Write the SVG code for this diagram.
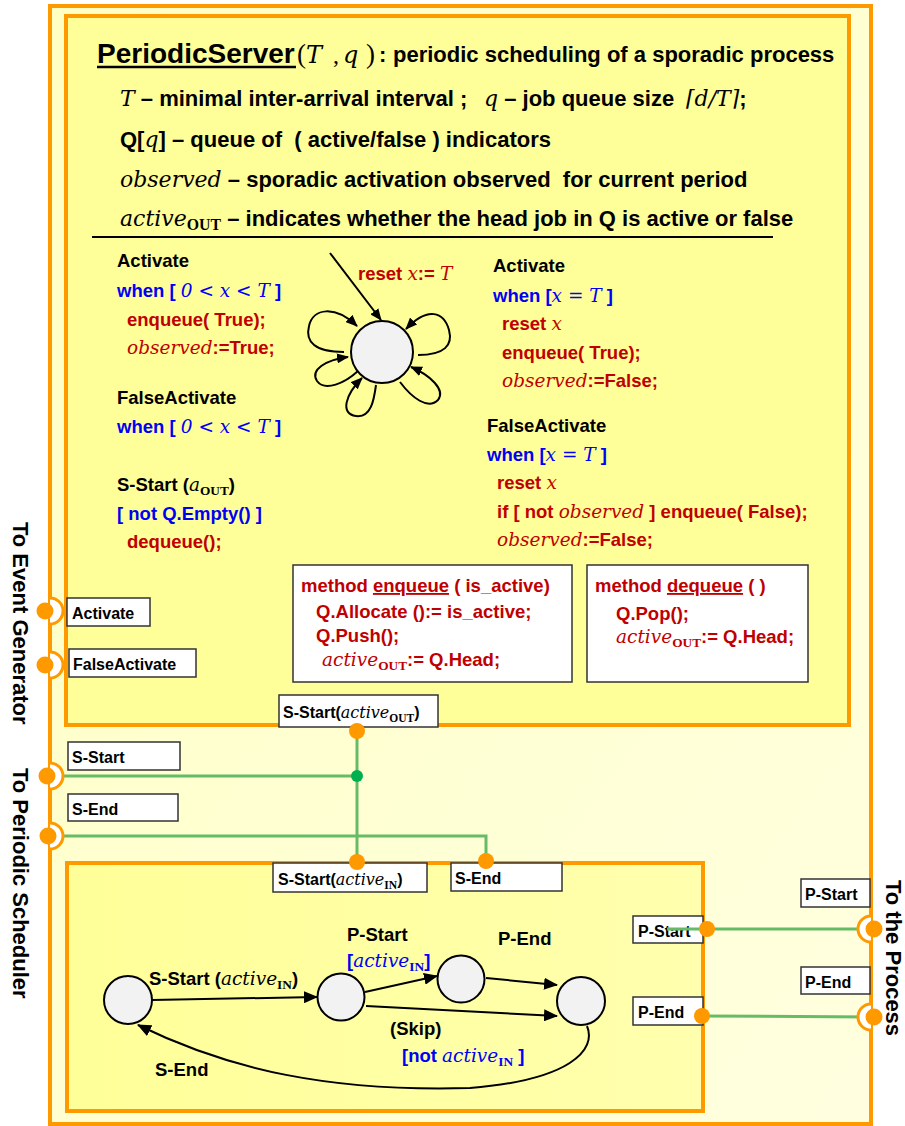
<svg xmlns="http://www.w3.org/2000/svg" width="905" height="1126" viewBox="0 0 905 1126">
<defs>
<style>
text{font-family:"Liberation Sans",Arial,sans-serif;font-weight:bold;fill:#000}
.ttl{font-size:28px}
.h{font-size:22px}
.b{font-size:18.5px}
.p{font-size:16px}
.red{fill:#C00000}
.blue{fill:#0000F5}
.m{font-family:"DejaVu Serif","Liberation Serif",serif;font-style:italic;font-weight:normal}
.par{font-family:"Liberation Serif",serif;font-weight:normal}
.sub{font-family:"Liberation Serif",serif;font-weight:bold;font-style:normal;font-size:0.72em}
.u{text-decoration:underline}
.frame{stroke:#FF9900;stroke-width:4}
.lbl{fill:#fff;stroke:#333;stroke-width:1.5}
.st{fill:#F2F2F2;stroke:#000;stroke-width:2}
.edge{fill:none;stroke:#000;stroke-width:2}
.wire{fill:none;stroke:#66BB66;stroke-width:3}
.dot{fill:#FF9900}
.sock{fill:#fff;stroke:#FF9900;stroke-width:3}
</style>
<linearGradient id="gOuter" x1="0" y1="0" x2="1" y2="1">
<stop offset="0" stop-color="#FFFFC4"/><stop offset="1" stop-color="#FFFFE0"/>
</linearGradient>
<linearGradient id="gLow" x1="0" y1="0" x2="1" y2="0">
<stop offset="0" stop-color="#FFFF99"/><stop offset="1" stop-color="#FFFFAE"/>
</linearGradient>
<marker id="ahS" markerWidth="12" markerHeight="10" refX="11" refY="5" orient="auto" markerUnits="userSpaceOnUse">
<path d="M0,0 L12,5 L0,10 z" fill="#000"/>
</marker>
<marker id="ahL" markerWidth="14" markerHeight="12" refX="13" refY="6" orient="auto" markerUnits="userSpaceOnUse">
<path d="M0,0 L14,6 L0,12 z" fill="#000"/>
</marker>
</defs>

<!-- outer component frame -->
<g id="periodic-server">
<rect x="50" y="6" width="821" height="1118" fill="url(#gOuter)" class="frame" stroke-width="3.5"/>
</g>

<!-- side labels -->
<g id="side-labels">
<text class="h" font-size="21.5" transform="translate(13,522) rotate(90)">To Event Generator</text>
<text class="h" font-size="21.5" transform="translate(13,768) rotate(90)">To Periodic Scheduler</text>
<text class="h" font-size="21" transform="translate(886,880) rotate(90)">To the Process</text>
</g>

<!-- upper block: server automaton -->
<g id="server-block">
<rect x="66" y="16" width="783" height="709" fill="#FFFF99" class="frame"/>
<text class="ttl" x="97" y="63">PeriodicServer</text>
<line x1="97" y1="67" x2="296" y2="67" stroke="#000" stroke-width="2.5"/>
<text class="par" x="297" y="63" font-size="27">(</text>
<text class="m" x="306" y="63" font-size="24">T</text>
<text class="par" x="333" y="63" font-size="24">,</text>
<text class="m" x="343" y="63" font-size="24">q</text>
<text class="par" x="366" y="63" font-size="27">)</text>
<text class="h" x="379" y="62">:</text>
<text class="h" x="393" y="62">periodic scheduling of a sporadic process</text>

<text class="h" y="106"><tspan class="m" x="120">T</tspan><tspan> – minimal inter-arrival interval ;</tspan><tspan class="m" x="484">q</tspan><tspan> – job queue size</tspan><tspan class="m" x="686">⌈d/T⌉</tspan><tspan>;</tspan></text>
<text class="h" y="147" xml:space="preserve"><tspan x="120">Q[</tspan><tspan class="m">q</tspan><tspan>] – queue of  ( active/false ) indicators</tspan></text>
<text class="h" y="187" xml:space="preserve"><tspan class="m" x="120">observed</tspan><tspan> – sporadic activation observed  for current period</tspan></text>
<text class="h" y="226"><tspan class="m" x="120">active</tspan><tspan class="sub" dy="4">OUT</tspan><tspan dy="-4"> – indicates whether the head job in Q is active or false</tspan></text>
<line x1="92" y1="237" x2="773" y2="237" stroke="#000" stroke-width="2"/>

<!-- transitions, left column -->
<text class="b" x="117" y="267">Activate</text>
<text class="b blue" x="117" y="297" xml:space="preserve">when [ <tspan class="m">0 &lt; x &lt; T</tspan> ]</text>
<text class="b red" x="127" y="326">enqueue( True);</text>
<text class="b red" x="127" y="354"><tspan class="m">observed</tspan>:=True;</text>
<text class="b" x="117" y="404">FalseActivate</text>
<text class="b blue" x="117" y="433" xml:space="preserve">when [ <tspan class="m">0 &lt; x &lt; T</tspan> ]</text>
<text class="b" x="117" y="491">S-Start (<tspan class="m">a</tspan><tspan class="sub" dy="4">OUT</tspan><tspan dy="-4">)</tspan></text>
<text class="b blue" x="117" y="520">[ not Q.Empty() ]</text>
<text class="b red" x="127" y="548">dequeue();</text>

<!-- transitions, right column -->
<text class="b" x="493" y="272">Activate</text>
<text class="b blue" x="493" y="302">when [<tspan class="m">x = T</tspan> ]</text>
<text class="b red" x="502" y="330">reset <tspan class="m">x</tspan></text>
<text class="b red" x="502" y="359">enqueue( True);</text>
<text class="b red" x="502" y="387"><tspan class="m">observed</tspan>:=False;</text>
<text class="b" x="487" y="432">FalseActivate</text>
<text class="b blue" x="487" y="461">when [<tspan class="m">x = T</tspan> ]</text>
<text class="b red" x="497" y="489">reset <tspan class="m">x</tspan></text>
<text class="b red" x="497" y="518">if [ not <tspan class="m">observed</tspan> ] enqueue( False);</text>
<text class="b red" x="497" y="546"><tspan class="m">observed</tspan>:=False;</text>

<text class="b red" x="358" y="280">reset <tspan class="m">x</tspan>:= <tspan class="m">T</tspan></text>
</g>

<!-- server state -->
<g id="server-state">
<circle cx="382" cy="352" r="31" class="st"/>
</g>

<!-- methods -->
<g id="method-enqueue">
<rect x="293" y="565" width="279" height="117" class="lbl"/>
<text class="b red" x="301" y="592">method <tspan class="u">enqueue</tspan> ( is_active)</text>
<text class="b red" x="316" y="618">Q.Allocate ():= is_active;</text>
<text class="b red" x="316" y="642">Q.Push();</text>
<text class="b red" x="322" y="666"><tspan class="m">active</tspan><tspan class="sub" dy="4">OUT</tspan><tspan dy="-4">:= Q.Head;</tspan></text>
</g>
<g id="method-dequeue">
<rect x="587" y="565" width="221" height="117" class="lbl"/>
<text class="b red" x="595" y="592">method <tspan class="u">dequeue</tspan> ( )</text>
<text class="b red" x="616" y="620">Q.Pop();</text>
<text class="b red" x="616" y="643"><tspan class="m">active</tspan><tspan class="sub" dy="4">OUT</tspan><tspan dy="-4">:= Q.Head;</tspan></text>
</g>

<!-- lower block: scheduler-side automaton -->
<g id="job-block">
<rect x="67" y="863" width="636" height="248" fill="url(#gLow)" class="frame"/>
<text class="b" x="149" y="985">S-Start (<tspan class="m">active</tspan><tspan class="sub" dy="4">IN</tspan><tspan dy="-4">)</tspan></text>
<text class="b" x="347" y="941">P-Start</text>
<text class="b blue" x="347" y="967">[<tspan class="m">active</tspan><tspan class="sub" dy="4">IN</tspan><tspan dy="-4">]</tspan></text>
<text class="b" x="498" y="945">P-End</text>
<text class="b" x="390" y="1035">(Skip)</text>
<text class="b blue" x="402" y="1062">[not <tspan class="m">active</tspan><tspan class="sub" dy="4">IN</tspan><tspan dy="-4"> ]</tspan></text>
<text class="b" x="155" y="1076">S-End</text>
</g>
<g id="idle"><circle cx="128" cy="1000" r="24" class="st"/></g>
<g id="started"><circle cx="341" cy="997" r="23.5" class="st"/></g>
<g id="running"><circle cx="461" cy="979" r="23.5" class="st"/></g>
<g id="ended"><circle cx="581" cy="1001" r="24" class="st"/></g>

<!-- port labels -->
<g id="port-labels">
<rect x="67" y="598" width="83" height="28" class="lbl"/><text class="p" x="72" y="619">Activate</text>
<rect x="69" y="649" width="127" height="28" class="lbl"/><text class="p" x="73" y="670">FalseActivate</text>
<rect x="68" y="742" width="112" height="28" class="lbl"/><text class="p" x="72" y="763">S-Start</text>
<rect x="68" y="794" width="110" height="27" class="lbl"/><text class="p" x="72" y="815">S-End</text>
<rect x="279" y="695" width="159" height="32" class="lbl"/><text class="p" x="283" y="718">S-Start(<tspan class="m">active</tspan><tspan class="sub" dy="4">OUT</tspan><tspan dy="-4">)</tspan></text>
<rect x="273" y="863" width="154" height="29" class="lbl"/><text class="p" x="278" y="885">S-Start(<tspan class="m">active</tspan><tspan class="sub" dy="4">IN</tspan><tspan dy="-4">)</tspan></text>
<rect x="451" y="863" width="111" height="28" class="lbl"/><text class="p" x="455" y="884">S-End</text>
<rect x="633" y="916" width="70" height="27" class="lbl"/><text class="p" x="638" y="937">P-Start</text>
<rect x="633" y="997" width="70" height="28" class="lbl"/><text class="p" x="638" y="1018">P-End</text>
<rect x="801" y="879" width="69" height="28" class="lbl"/><text class="p" x="805" y="900">P-Start</text>
<rect x="801" y="967" width="69" height="27" class="lbl"/><text class="p" x="805" y="988">P-End</text>
</g>

<!-- connectors -->
<g id="connectors">
<path class="edge" d="M330,253 L381,320" marker-end="url(#ahS)"/>
<path class="edge" d="M344,352 C315,352 305,342 309,326 C313,308 335,305 357,326" marker-end="url(#ahS)"/>
<path class="edge" d="M418,355 C445,355 453,345 449,330 C444,312 428,306 406,329" marker-end="url(#ahS)"/>
<path class="edge" d="M400,382 C412,398 428,410 438,400 C446,390 430,375 411,367" marker-end="url(#ahS)"/>
<path class="edge" d="M358,371 C345,383 325,392 317,381 C310,370 325,360 348,357" marker-end="url(#ahS)"/>
<path class="edge" d="M376,385 C374,400 371,418 356,416 C340,414 345,395 362,378" marker-end="url(#ahS)"/>

<path class="edge" d="M152,1000 L317,997" marker-end="url(#ahL)"/>
<path class="edge" d="M365,992 L437,976" marker-end="url(#ahL)"/>
<path class="edge" d="M486,978 L557,985" marker-end="url(#ahL)"/>
<path class="edge" d="M366,1006 L557,1016" marker-end="url(#ahL)"/>
<path class="edge" d="M587,1026 C597,1050 570,1080 470,1088 C330,1092 230,1070 138,1025" marker-end="url(#ahL)"/>

<path class="wire" d="M52,776 L357,776"/>
<path class="wire" d="M357,730 L357,862"/>
<path class="wire" d="M52,836 L486,836 L486,861"/>
<path class="wire" d="M667,929 L871,929"/>
<path class="wire" d="M702,1016 L871,1017"/>
<circle cx="357" cy="776" r="6" fill="#00B050"/>
</g>

<!-- ports -->
<g id="ports">
<path class="sock" d="M50,598 A13,13 0 0 1 50,624"/><circle cx="45" cy="611" r="8.5" class="dot"/>
<path class="sock" d="M50,652 A13,13 0 0 1 50,678"/><circle cx="45" cy="665" r="8.5" class="dot"/>
<path class="sock" d="M50,763 A13,13 0 0 1 50,789"/><circle cx="47" cy="776" r="8.5" class="dot"/>
<path class="sock" d="M50,823 A13,13 0 0 1 50,849"/><circle cx="48" cy="836" r="8.5" class="dot"/>
<path class="sock" d="M871,916 A13,13 0 0 0 871,942"/><circle cx="874" cy="929" r="8.5" class="dot"/>
<path class="sock" d="M871,1004 A13,13 0 0 0 871,1030"/><circle cx="874" cy="1017" r="8.5" class="dot"/>
<circle cx="357" cy="731" r="8" class="dot"/>
<circle cx="357" cy="862" r="8" class="dot"/>
<circle cx="486" cy="861" r="8" class="dot"/>
<circle cx="707" cy="929" r="8" class="dot"/>
<circle cx="702" cy="1016" r="8" class="dot"/>
</g>
</svg>
